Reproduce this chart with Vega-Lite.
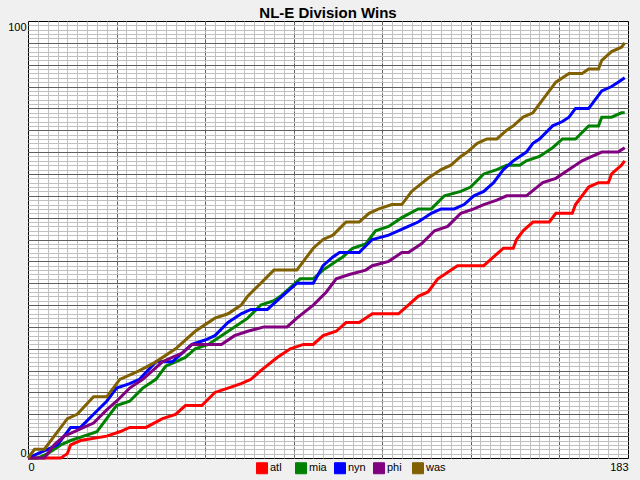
{
  "$schema": "https://vega.github.io/schema/vega-lite/v6.json",
  "width": 600,
  "height": 437,
  "autosize": {"type": "none"},
  "padding": {"left": 28, "top": 21, "right": 12, "bottom": 22},
  "background": "#f0f0f0",
  "title": {"text": "NL-E Division Wins", "font": "Liberation Sans", "fontSize": 15, "fontWeight": "bold", "color": "black", "anchor": "middle", "frame": "group", "baseline": "alphabetic", "offset": 3, "dy": 15},
  "config": {"view": {"stroke": "black", "strokeWidth": 1, "fill": "white"}},
  "datasets": {
    "wins": [
      {"team":"atl","day":0,"wins":0},{"team":"atl","day":10,"wins":0},{"team":"atl","day":12,"wins":1},{"team":"atl","day":13,"wins":3},{"team":"atl","day":16,"wins":4},{"team":"atl","day":24,"wins":5},{"team":"atl","day":28,"wins":6},{"team":"atl","day":31,"wins":7},{"team":"atl","day":36,"wins":7},{"team":"atl","day":41,"wins":9},{"team":"atl","day":45,"wins":10},{"team":"atl","day":48,"wins":12},{"team":"atl","day":53,"wins":12},{"team":"atl","day":57,"wins":15},{"team":"atl","day":61,"wins":16},{"team":"atl","day":65,"wins":17},{"team":"atl","day":68,"wins":18},{"team":"atl","day":71,"wins":20},{"team":"atl","day":76,"wins":23},{"team":"atl","day":80,"wins":25},{"team":"atl","day":84,"wins":26},{"team":"atl","day":87,"wins":26},{"team":"atl","day":90,"wins":28},{"team":"atl","day":94,"wins":29},{"team":"atl","day":97,"wins":31},{"team":"atl","day":101,"wins":31},{"team":"atl","day":105,"wins":33},{"team":"atl","day":113,"wins":33},{"team":"atl","day":116,"wins":35},{"team":"atl","day":119,"wins":37},{"team":"atl","day":122,"wins":38},{"team":"atl","day":125,"wins":41},{"team":"atl","day":127,"wins":42},{"team":"atl","day":131,"wins":44},{"team":"atl","day":139,"wins":44},{"team":"atl","day":142,"wins":46},{"team":"atl","day":145,"wins":48},{"team":"atl","day":148,"wins":48},{"team":"atl","day":149,"wins":50},{"team":"atl","day":151,"wins":52},{"team":"atl","day":154,"wins":54},{"team":"atl","day":159,"wins":54},{"team":"atl","day":161,"wins":56},{"team":"atl","day":166,"wins":56},{"team":"atl","day":167,"wins":58},{"team":"atl","day":171,"wins":62},{"team":"atl","day":174,"wins":63},{"team":"atl","day":177,"wins":63},{"team":"atl","day":178,"wins":65},{"team":"atl","day":181,"wins":67},{"team":"atl","day":182,"wins":68},
      {"team":"mia","day":0,"wins":0},{"team":"mia","day":3,"wins":0},{"team":"mia","day":6,"wins":1},{"team":"mia","day":10,"wins":3},{"team":"mia","day":13,"wins":4},{"team":"mia","day":17,"wins":5},{"team":"mia","day":21,"wins":6},{"team":"mia","day":24,"wins":9},{"team":"mia","day":27,"wins":12},{"team":"mia","day":31,"wins":13},{"team":"mia","day":35,"wins":16},{"team":"mia","day":39,"wins":18},{"team":"mia","day":42,"wins":21},{"team":"mia","day":45,"wins":22},{"team":"mia","day":48,"wins":23},{"team":"mia","day":51,"wins":25},{"team":"mia","day":55,"wins":26},{"team":"mia","day":59,"wins":28},{"team":"mia","day":63,"wins":30},{"team":"mia","day":67,"wins":32},{"team":"mia","day":71,"wins":35},{"team":"mia","day":75,"wins":36},{"team":"mia","day":77,"wins":37},{"team":"mia","day":80,"wins":39},{"team":"mia","day":83,"wins":41},{"team":"mia","day":87,"wins":41},{"team":"mia","day":90,"wins":43},{"team":"mia","day":94,"wins":45},{"team":"mia","day":96,"wins":46},{"team":"mia","day":99,"wins":48},{"team":"mia","day":103,"wins":49},{"team":"mia","day":106,"wins":52},{"team":"mia","day":110,"wins":53},{"team":"mia","day":114,"wins":55},{"team":"mia","day":119,"wins":57},{"team":"mia","day":123,"wins":57},{"team":"mia","day":127,"wins":60},{"team":"mia","day":132,"wins":61},{"team":"mia","day":135,"wins":62},{"team":"mia","day":139,"wins":65},{"team":"mia","day":143,"wins":66},{"team":"mia","day":146,"wins":67},{"team":"mia","day":150,"wins":67},{"team":"mia","day":152,"wins":68},{"team":"mia","day":156,"wins":69},{"team":"mia","day":160,"wins":71},{"team":"mia","day":163,"wins":73},{"team":"mia","day":167,"wins":73},{"team":"mia","day":171,"wins":76},{"team":"mia","day":174,"wins":76},{"team":"mia","day":175,"wins":78},{"team":"mia","day":178,"wins":78},{"team":"mia","day":181,"wins":79},{"team":"mia","day":182,"wins":79},
      {"team":"nyn","day":0,"wins":0},{"team":"nyn","day":3,"wins":1},{"team":"nyn","day":6,"wins":2},{"team":"nyn","day":9,"wins":3},{"team":"nyn","day":12,"wins":6},{"team":"nyn","day":13,"wins":7},{"team":"nyn","day":16,"wins":7},{"team":"nyn","day":20,"wins":10},{"team":"nyn","day":24,"wins":13},{"team":"nyn","day":27,"wins":16},{"team":"nyn","day":31,"wins":17},{"team":"nyn","day":34,"wins":18},{"team":"nyn","day":39,"wins":22},{"team":"nyn","day":44,"wins":22},{"team":"nyn","day":47,"wins":24},{"team":"nyn","day":50,"wins":26},{"team":"nyn","day":54,"wins":27},{"team":"nyn","day":57,"wins":28},{"team":"nyn","day":61,"wins":31},{"team":"nyn","day":65,"wins":33},{"team":"nyn","day":68,"wins":34},{"team":"nyn","day":73,"wins":34},{"team":"nyn","day":76,"wins":36},{"team":"nyn","day":79,"wins":38},{"team":"nyn","day":82,"wins":40},{"team":"nyn","day":87,"wins":40},{"team":"nyn","day":90,"wins":44},{"team":"nyn","day":93,"wins":46},{"team":"nyn","day":95,"wins":47},{"team":"nyn","day":101,"wins":47},{"team":"nyn","day":105,"wins":50},{"team":"nyn","day":110,"wins":51},{"team":"nyn","day":116,"wins":53},{"team":"nyn","day":119,"wins":54},{"team":"nyn","day":123,"wins":56},{"team":"nyn","day":126,"wins":57},{"team":"nyn","day":130,"wins":57},{"team":"nyn","day":133,"wins":58},{"team":"nyn","day":136,"wins":60},{"team":"nyn","day":139,"wins":61},{"team":"nyn","day":142,"wins":63},{"team":"nyn","day":145,"wins":66},{"team":"nyn","day":148,"wins":68},{"team":"nyn","day":150,"wins":69},{"team":"nyn","day":152,"wins":70},{"team":"nyn","day":154,"wins":72},{"team":"nyn","day":156,"wins":73},{"team":"nyn","day":160,"wins":76},{"team":"nyn","day":163,"wins":77},{"team":"nyn","day":165,"wins":78},{"team":"nyn","day":167,"wins":80},{"team":"nyn","day":171,"wins":80},{"team":"nyn","day":172,"wins":81},{"team":"nyn","day":175,"wins":84},{"team":"nyn","day":178,"wins":85},{"team":"nyn","day":180,"wins":86},{"team":"nyn","day":182,"wins":87},
      {"team":"phi","day":0,"wins":0},{"team":"phi","day":5,"wins":0},{"team":"phi","day":8,"wins":3},{"team":"phi","day":11,"wins":5},{"team":"phi","day":14,"wins":6},{"team":"phi","day":17,"wins":7},{"team":"phi","day":20,"wins":8},{"team":"phi","day":24,"wins":11},{"team":"phi","day":27,"wins":13},{"team":"phi","day":31,"wins":16},{"team":"phi","day":35,"wins":18},{"team":"phi","day":38,"wins":20},{"team":"phi","day":41,"wins":22},{"team":"phi","day":44,"wins":23},{"team":"phi","day":47,"wins":24},{"team":"phi","day":50,"wins":26},{"team":"phi","day":59,"wins":26},{"team":"phi","day":63,"wins":28},{"team":"phi","day":67,"wins":29},{"team":"phi","day":72,"wins":30},{"team":"phi","day":79,"wins":30},{"team":"phi","day":82,"wins":32},{"team":"phi","day":87,"wins":35},{"team":"phi","day":91,"wins":38},{"team":"phi","day":94,"wins":41},{"team":"phi","day":98,"wins":42},{"team":"phi","day":103,"wins":43},{"team":"phi","day":105,"wins":44},{"team":"phi","day":110,"wins":45},{"team":"phi","day":114,"wins":47},{"team":"phi","day":116,"wins":47},{"team":"phi","day":120,"wins":49},{"team":"phi","day":124,"wins":52},{"team":"phi","day":128,"wins":53},{"team":"phi","day":132,"wins":56},{"team":"phi","day":136,"wins":57},{"team":"phi","day":139,"wins":58},{"team":"phi","day":143,"wins":59},{"team":"phi","day":146,"wins":60},{"team":"phi","day":152,"wins":60},{"team":"phi","day":157,"wins":63},{"team":"phi","day":161,"wins":64},{"team":"phi","day":165,"wins":66},{"team":"phi","day":169,"wins":68},{"team":"phi","day":172,"wins":69},{"team":"phi","day":175,"wins":70},{"team":"phi","day":180,"wins":70},{"team":"phi","day":182,"wins":71},
      {"team":"was","day":0,"wins":0},{"team":"was","day":2,"wins":2},{"team":"was","day":5,"wins":2},{"team":"was","day":8,"wins":5},{"team":"was","day":12,"wins":9},{"team":"was","day":15,"wins":10},{"team":"was","day":20,"wins":14},{"team":"was","day":24,"wins":14},{"team":"was","day":28,"wins":18},{"team":"was","day":34,"wins":20},{"team":"was","day":39,"wins":22},{"team":"was","day":45,"wins":25},{"team":"was","day":51,"wins":29},{"team":"was","day":57,"wins":32},{"team":"was","day":61,"wins":33},{"team":"was","day":65,"wins":35},{"team":"was","day":67,"wins":37},{"team":"was","day":71,"wins":40},{"team":"was","day":75,"wins":43},{"team":"was","day":82,"wins":43},{"team":"was","day":87,"wins":48},{"team":"was","day":90,"wins":50},{"team":"was","day":93,"wins":51},{"team":"was","day":97,"wins":54},{"team":"was","day":101,"wins":54},{"team":"was","day":104,"wins":56},{"team":"was","day":107,"wins":57},{"team":"was","day":111,"wins":58},{"team":"was","day":114,"wins":58},{"team":"was","day":117,"wins":61},{"team":"was","day":122,"wins":64},{"team":"was","day":126,"wins":66},{"team":"was","day":129,"wins":67},{"team":"was","day":132,"wins":69},{"team":"was","day":134,"wins":70},{"team":"was","day":137,"wins":72},{"team":"was","day":140,"wins":73},{"team":"was","day":143,"wins":73},{"team":"was","day":146,"wins":75},{"team":"was","day":148,"wins":76},{"team":"was","day":151,"wins":78},{"team":"was","day":154,"wins":79},{"team":"was","day":157,"wins":82},{"team":"was","day":161,"wins":86},{"team":"was","day":165,"wins":88},{"team":"was","day":169,"wins":88},{"team":"was","day":171,"wins":89},{"team":"was","day":174,"wins":89},{"team":"was","day":175,"wins":91},{"team":"was","day":178,"wins":93},{"team":"was","day":181,"wins":94},{"team":"was","day":182,"wins":95}
    ]
  },
  "data": {"name": "wins"},
  "layer": [
    {
      "mark": {"type": "point", "opacity": 0},
      "encoding": {
        "x": {"field": "day", "type": "quantitative", "scale": {"domain": [0, 183], "nice": false, "zero": true},
          "axis": {"orient": "top", "title": null, "labels": false, "ticks": false, "domain": false, "minExtent": 0, "maxExtent": 0, "grid": true, "gridColor": "#c0c0c0", "gridWidth": 1,
            "values": [3,6,9,12,15,18,21,24,27,30,33,36,39,42,45,48,51,54,57,60,63,66,69,72,75,78,81,84,87,90,93,96,99,102,105,108,111,114,117,120,123,126,129,132,135,138,141,144,147,150,153,156,159,162,165,168,171,174,177,180]}},
        "y": {"field": "wins", "type": "quantitative", "scale": {"domain": [0, 100], "nice": false, "zero": true},
          "axis": {"orient": "right", "title": null, "labels": false, "ticks": false, "domain": false, "minExtent": 0, "maxExtent": 0, "grid": true, "gridColor": "#c0c0c0", "gridWidth": 1,
            "values": [1,2,3,4,5,6,7,8,9,10,11,12,13,14,15,16,17,18,19,20,21,22,23,24,25,26,27,28,29,30,31,32,33,34,35,36,37,38,39,40,41,42,43,44,45,46,47,48,49,50,51,52,53,54,55,56,57,58,59,60,61,62,63,64,65,66,67,68,69,70,71,72,73,74,75,76,77,78,79,80,81,82,83,84,85,86,87,88,89,90,91,92,93,94,95,96,97,98,99]}}
      }
    },
    {
      "mark": {"type": "line", "strokeWidth": 3, "interpolate": "linear"},
      "encoding": {
        "x": {"field": "day", "type": "quantitative", "scale": {"domain": [0, 183], "nice": false, "zero": true},
          "axis": {"orient": "bottom", "title": null, "ticks": false, "domain": false, "grid": true, "gridColor": "#5f5f5f", "gridWidth": 1, "gridDash": [4, 2],
            "gridOpacity": {"condition": {"test": "datum.value == 0 || datum.value == 183", "value": 0}, "value": 1},
            "values": [0, 27, 54, 81, 108, 135, 162, 183],
            "labelExpr": "datum.value == 0 || datum.value == 183 ? datum.label : ''",
            "labelFlush": true, "labelOverlap": false, "labelPadding": 3, "labelFont": "Liberation Sans", "labelFontSize": 11, "labelColor": "black"}},
        "y": {"field": "wins", "type": "quantitative", "scale": {"domain": [0, 100], "nice": false, "zero": true},
          "axis": {"orient": "left", "title": null, "ticks": false, "domain": false, "grid": true, "gridColor": "#5f5f5f", "gridWidth": 1,
            "gridOpacity": {"condition": {"test": "datum.value == 0 || datum.value == 100", "value": 0}, "value": 1},
            "values": [0,5,10,15,20,25,30,35,40,45,50,55,60,65,70,75,80,85,90,95,100],
            "labelExpr": "datum.value == 0 || datum.value == 100 ? datum.label : ''",
            "labelFlush": true, "labelOverlap": false, "labelPadding": 2, "labelFont": "Liberation Sans", "labelFontSize": 11, "labelColor": "black"}},
        "color": {"field": "team", "type": "nominal",
          "scale": {"domain": ["atl", "mia", "nyn", "phi", "was"], "range": ["#ff0000", "#008000", "#0000ff", "#800080", "#806000"]},
          "legend": {"title": null, "orient": "none", "legendX": 228, "legendY": 441, "direction": "horizontal", "columns": 5, "gridAlign": "all", "columnPadding": 3, "padding": 0,
            "symbolType": "square", "symbolSize": 121, "symbolStrokeColor": "black", "symbolStrokeWidth": 1, "symbolOpacity": 1,
            "labelOffset": 2, "labelFont": "Liberation Sans", "labelFontSize": 11, "labelColor": "black",
            "encode": {"symbols": {"update": {"fill": {"scale": "color", "field": "value"}, "fillOpacity": {"value": 1}, "stroke": {"value": "black"}, "strokeWidth": {"value": 1}}}}}}
      }
    }
  ],
  "resolve": {"axis": {"x": "independent", "y": "independent"}}
}
